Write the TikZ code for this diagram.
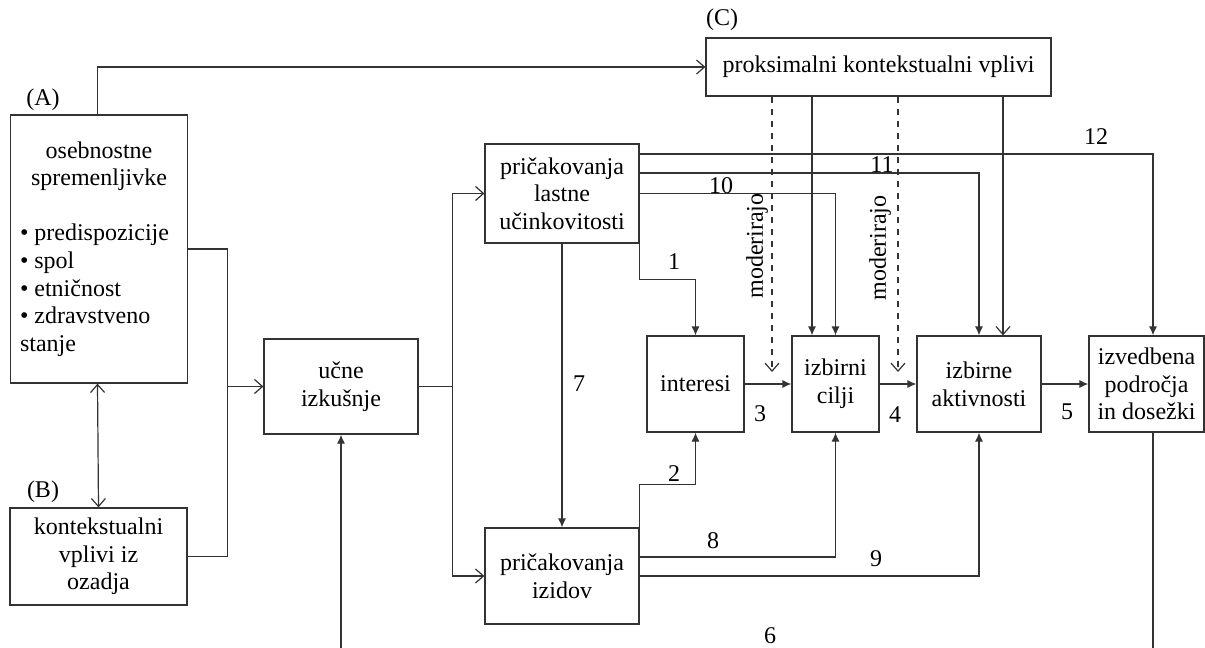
\documentclass[tikz,border=0pt]{standalone}
\usepackage{fontspec}
\setmainfont{Liberation Serif}
\usetikzlibrary{arrows.meta}
\begin{document}
\begin{tikzpicture}[x=0.5pt,y=-0.5pt,
  font=\fontsize{12}{13.8}\selectfont,
  box/.style={draw=black!80,line width=0.6pt,rectangle,inner sep=1pt,align=center},
  ln/.style={draw=black!80,line width=0.6pt},
  arr/.style={ln,-{Latex[length=4.5pt,width=4pt]}},
  oarr/.style={ln,-{Straight Barb[length=4pt,width=7pt]}},
  darr/.style={ln,{Straight Barb[length=4pt,width=7pt]}-{Straight Barb[length=4pt,width=7pt]}},
  lab/.style={inner sep=0pt}]
\useasboundingbox (0,0) rectangle (1205,648);
% boxes
\node[box,minimum width=88.5pt,minimum height=134pt,text width=79pt,align=left] (A) at (99,249)
  {\centering osebnostne\\spremenljivke\par\vspace{13.8pt}\raggedright
   •\hspace{3pt}predispozicije\\•\hspace{3pt}spol\\•\hspace{3pt}etničnost\\•\hspace{3pt}zdravstveno\\stanje\par};
\node[box,minimum width=88.5pt,minimum height=48.5pt] (B) at (98.5,556.5) {kontekstualni\\vplivi iz\\ozadja};
\node[box,minimum width=172.5pt,minimum height=29pt] (C) at (878.5,67) {proksimalni kontekstualni vplivi};
\node[box,minimum width=77pt,minimum height=47.5pt] (U) at (341,386.5) {učne\\izkušnje};
\node[box,minimum width=77pt,minimum height=49.5pt] (PL) at (562,193.5) {pričakovanja\\lastne\\učinkovitosti};
\node[box,minimum width=77pt,minimum height=48pt] (PI) at (562,576) {pričakovanja\\izidov};
\node[box,minimum width=48.5pt,minimum height=48pt] (IN) at (695.5,384) {interesi};
\node[box,minimum width=43.5pt,minimum height=48pt] (CI) at (835.5,384) {izbirni\\cilji};
\node[box,minimum width=62pt,minimum height=48pt] (AK) at (979,384) {izbirne\\aktivnosti};
\node[box,minimum width=57.5pt,minimum height=48pt] (IZ) at (1146.5,384) {izvedbena\\področja\\in dosežki};
% group labels
\node[lab] (la) at (43,100) {(A)};
\node[lab] (lb) at (43,492) {(B)};
\node[lab] (lc) at (722,20) {(C)};
% A -> C
\draw[oarr] ([xshift=-0.75pt]A.north) |- (C.west);
% A, B -> U
\draw[ln] (A.east) -- ++(39,0) coordinate (j1) |- (B.east);
\draw[oarr] (j1 |- U.west) -- (U.west);
\draw[darr] ([xshift=-0.75pt]A.south) -- (B.north);
% U -> PL, PI
\draw[ln] (U.east) -- ++(34,0) coordinate (j2);
\draw[oarr] (j2) |- (PL.west);
\draw[oarr] (j2) |- (PI.west);
% 7
\draw[arr] (PL.south) -- (PI.north);
% 1, 2
\draw[arr] (PL.south east) -- ++(0,36) -| (IN.north);
\draw[arr] (PI.north east) -- ++(0,-43) -| (IN.south);
% 3 4 5
\draw[arr] (IN.east) -- (CI.west);
\draw[arr] (CI.east) -- (AK.west);
\draw[arr] (AK.east) -- (IZ.west);
% 8 9
\draw[arr] ([yshift=9.5pt]PI.east) -| (CI.south);
\draw[arr] (PI.east) -| (AK.south);
% 10 11 12
\coordinate (iz12) at ([xshift=3.25pt]IZ.north);
\draw[arr] (PL.east) -| (CI.north);
\draw[arr] ([yshift=10.25pt]PL.east) -| (AK.north);
\draw[arr] ([yshift=19.75pt]PL.east) -| (iz12);
% C -> CI, AK
\coordinate (c1) at ([xshift=-11.75pt]CI.north);
\coordinate (c2) at ([xshift=12pt]AK.north);
\draw[arr] (c1 |- C.south) -- (c1);
\draw[oarr] (c2 |- C.south) -- (c2);
% moderating dashed
\coordinate (d1) at (772,372);
\coordinate (d2) at (898,372);
\draw[oarr,dashed] (d1 |- C.south) -- (d1);
\draw[oarr,dashed] (d2 |- C.south) -- (d2);
\node[lab,rotate=90] (m1) at (757,246) {moderirajo};
\node[lab,rotate=90] (m2) at (880,248) {moderirajo};
% 6
\draw[arr] ([xshift=3.25pt]IZ.south) -- ++(0,250) -| (U.south);
% number labels
\node[lab] (n1) at (674,262) {1};
\node[lab] (n2) at (674,474) {2};
\node[lab] (n3) at (760,414) {3};
\node[lab] (n4) at (895,415) {4};
\node[lab] (n5) at (1067,412) {5};
\node[lab] (n6) at (770,636) {6};
\node[lab] (n7) at (579,384) {7};
\node[lab] (n8) at (713,541) {8};
\node[lab] (n9) at (876,559) {9};
\node[lab] (n10) at (721,186) {10};
\node[lab] (n11) at (882,165) {11};
\node[lab] (n12) at (1096,137) {12};
\end{tikzpicture}
\end{document}
